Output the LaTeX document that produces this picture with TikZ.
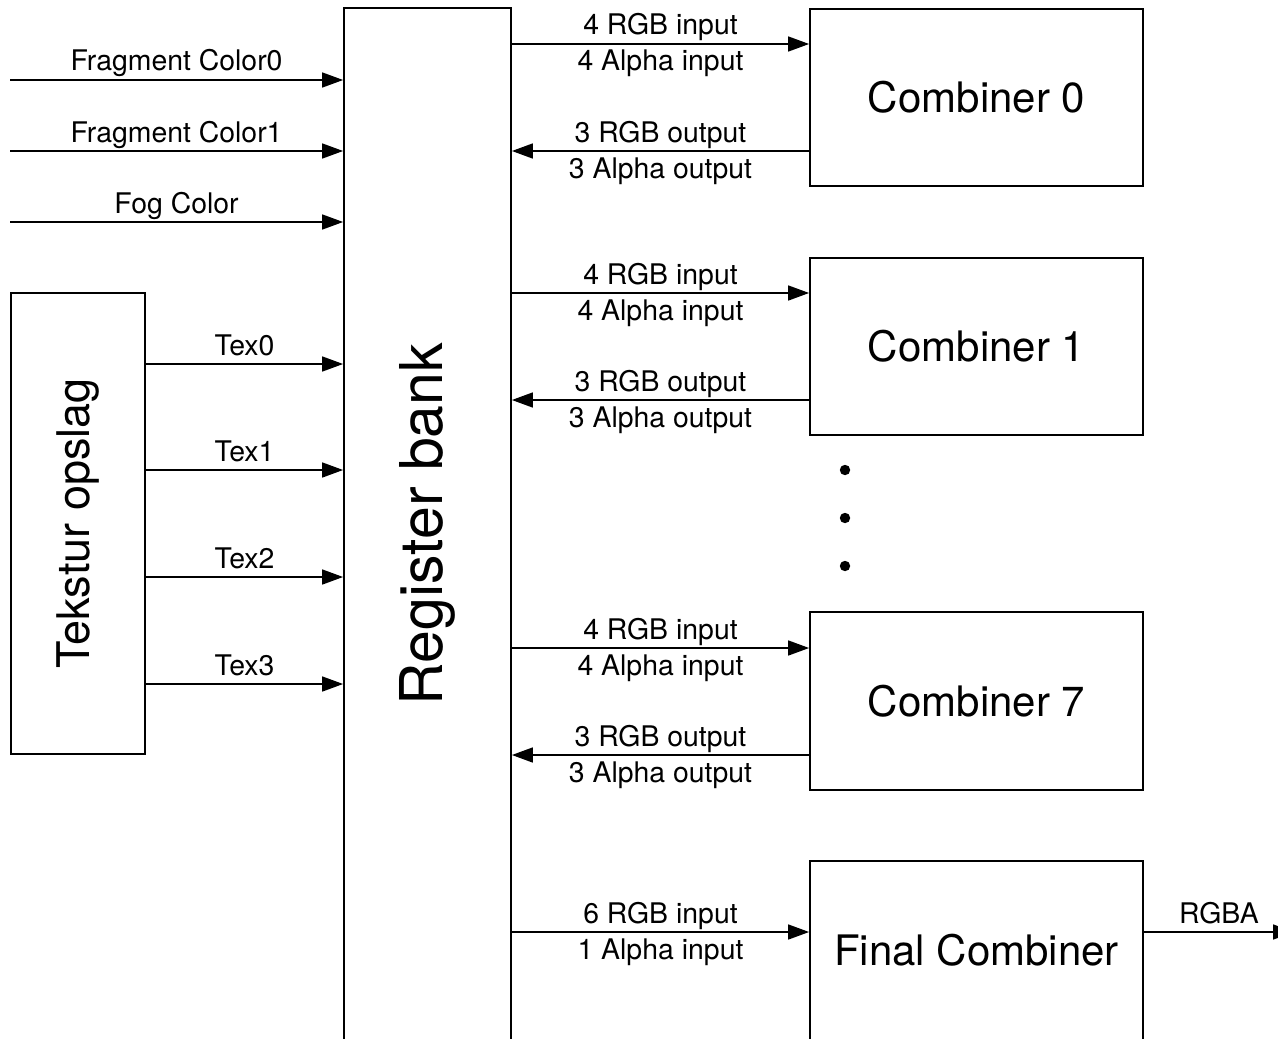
\documentclass[tikz,border=0pt]{standalone}
\usepackage{fontspec}
\setmainfont{TeX Gyre Heros}
\usetikzlibrary{arrows.meta}
\begin{document}
\begin{tikzpicture}[x=0.5pt,y=-0.5pt,
  box/.style={draw, line width=0.9pt, inner sep=0pt},
  arr/.style={line width=0.8pt, -{Triangle[length=10.5pt,width=7.5pt]}},
  lab/.style={font=\fontsize{14.2}{16}\selectfont, anchor=base, inner sep=0pt, yshift=4.5pt},
  labb/.style={font=\fontsize{14.2}{16}\selectfont, anchor=base, inner sep=0pt, yshift=-13.5pt},
  big/.style={font=\fontsize{21}{24}\selectfont},
  comb/.style={box, minimum width=166.5pt, minimum height=88.5pt, big},
  dot/.style={circle, fill, inner sep=0pt, minimum size=5.2pt}]
\useasboundingbox (0,0) rectangle (1278,1038);
\clip (0,0) rectangle (1278,1038);
% main blocks
\node[box, minimum width=83.5pt, minimum height=516pt] (rb) at (427.5,524)
  {\rotatebox{90}{\fontsize{29.5}{32}\selectfont Register bank}};
\node[box, minimum width=67pt, minimum height=230.5pt] (tek) at (78,523.5)
  {\rotatebox{90}{\fontsize{22.5}{25}\selectfont Tekstur opslag}};
\node[comb] (c0) at (976.5,97.5) {Combiner 0};
\node[comb] (c1) at (976.5,346.5) {Combiner 1};
\node[comb, minimum height=89pt] (c7) at (976.5,701) {Combiner 7};
\node[box, minimum width=166.5pt, minimum height=104.5pt] (fc) at (976.5,965.5) {};
\node[big, inner sep=0pt] (fct) at (976.5,950) {Final Combiner};
% dots
\node[dot] (d1) at (845,470) {};
\node[dot] (d2) at (845,518) {};
\node[dot] (d3) at (845,566) {};
% left inputs
\coordinate (f0) at (10,80);
\coordinate (f1) at (10,151);
\coordinate (fg) at (10,222);
\draw[arr] (f0) -- (f0 -| rb.west) node[midway,lab]{Fragment Color0};
\draw[arr] (f1) -- (f1 -| rb.west) node[midway,lab]{Fragment Color1};
\draw[arr] (fg) -- (fg -| rb.west) node[midway,lab]{Fog Color};
% texture
\draw[arr] (tek.east |- 0,364) -- (rb.west |- 0,364) node[midway,lab]{Tex0};
\draw[arr] (tek.east |- 0,470) -- (rb.west |- 0,470) node[midway,lab]{Tex1};
\draw[arr] (tek.east |- 0,577) -- (rb.west |- 0,577) node[midway,lab]{Tex2};
\draw[arr] (tek.east |- 0,684) -- (rb.west |- 0,684) node[midway,lab]{Tex3};
% combiner 0
\draw[arr] (rb.east |- 0,44) -- (c0.west |- 0,44) node[midway,lab]{4 RGB input} node[midway,labb]{4 Alpha input};
\draw[arr] (c0.west |- 0,151) -- (rb.east |- 0,151) node[midway,lab]{3 RGB output} node[midway,labb]{3 Alpha output};
% combiner 1
\draw[arr] (rb.east |- 0,293) -- (c1.west |- 0,293) node[midway,lab]{4 RGB input} node[midway,labb]{4 Alpha input};
\draw[arr] (c1.west |- 0,400) -- (rb.east |- 0,400) node[midway,lab]{3 RGB output} node[midway,labb]{3 Alpha output};
% combiner 7
\draw[arr] (rb.east |- 0,648) -- (c7.west |- 0,648) node[midway,lab]{4 RGB input} node[midway,labb]{4 Alpha input};
\draw[arr] (c7.west |- 0,755) -- (rb.east |- 0,755) node[midway,lab]{3 RGB output} node[midway,labb]{3 Alpha output};
% final
\draw[arr] (rb.east |- 0,932) -- (fc.west |- 0,932) node[midway,lab]{6 RGB input} node[midway,labb]{1 Alpha input};
\coordinate (out) at (1294,932);
\draw[arr] (fc.east |- out) -- (out) node[midway,lab]{RGBA};
\end{tikzpicture}
\end{document}
